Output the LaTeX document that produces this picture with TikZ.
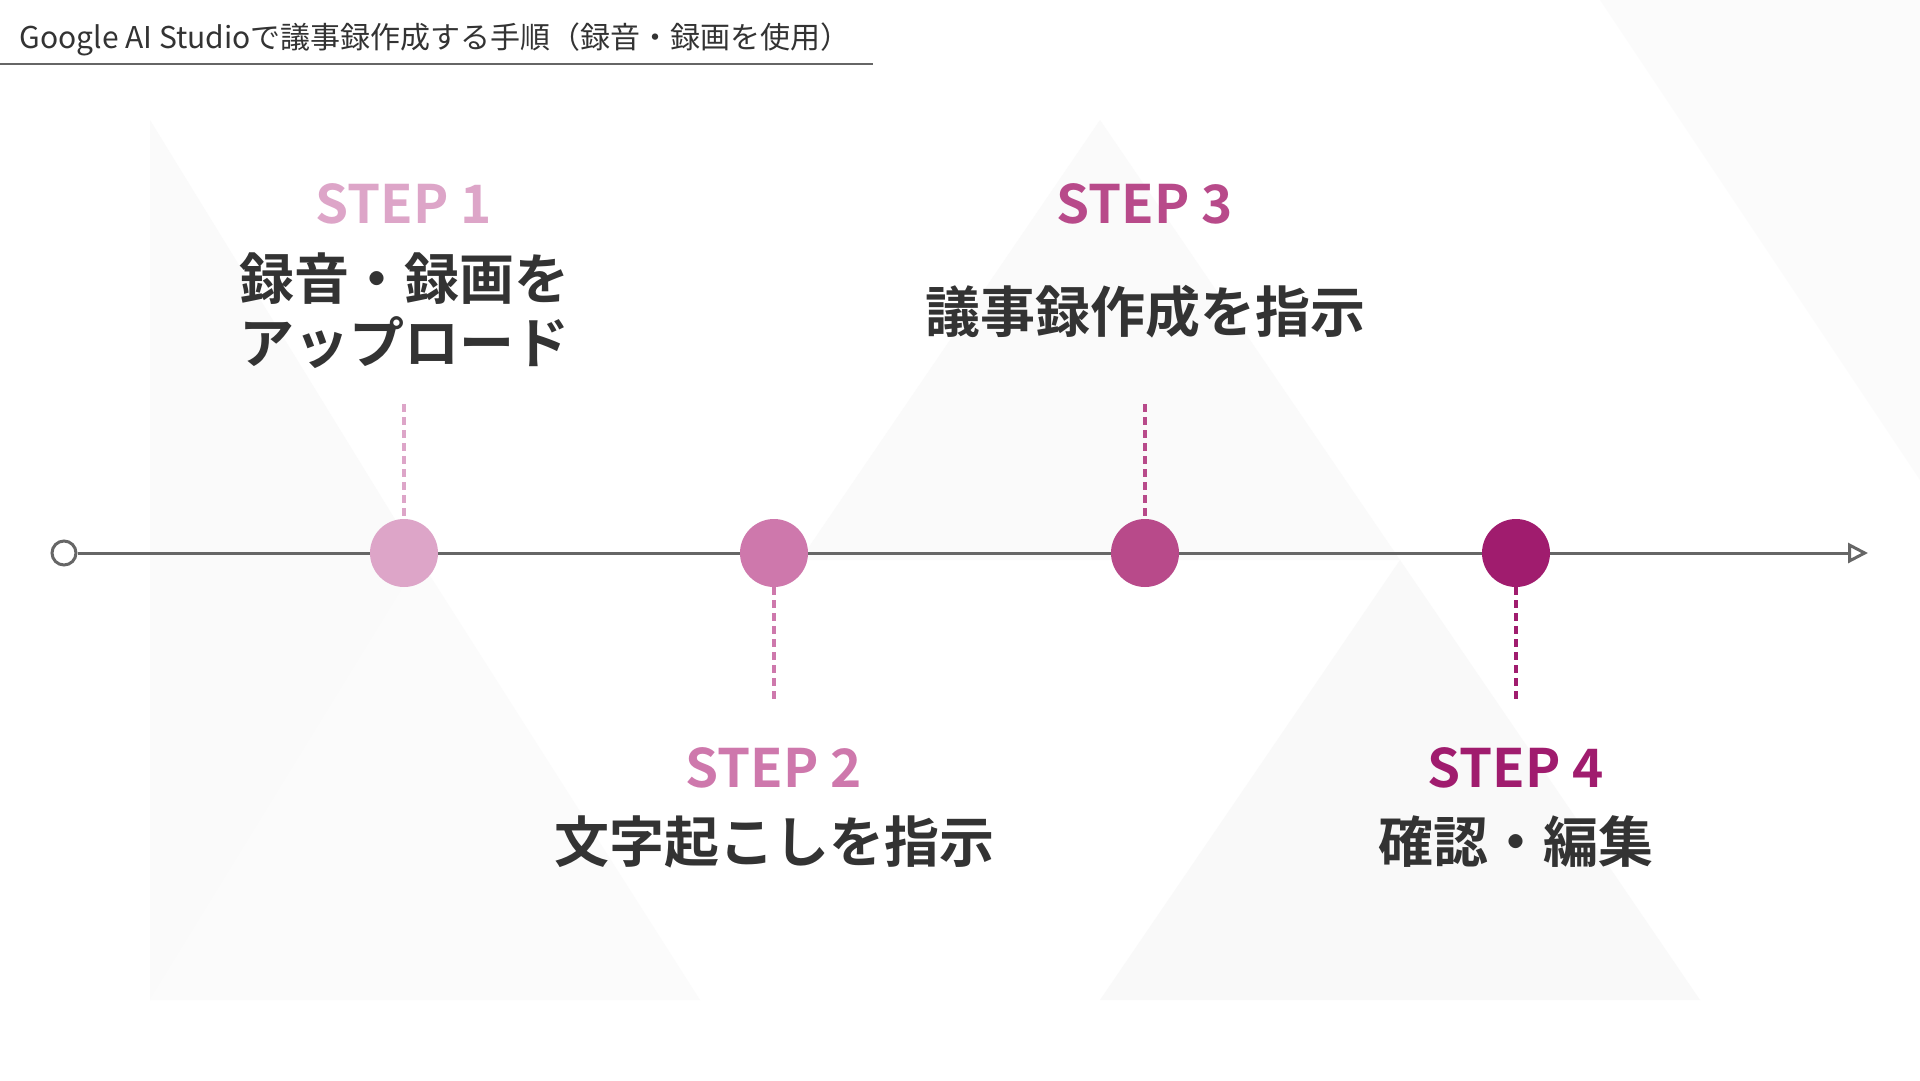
\documentclass[tikz,border=0pt]{standalone}
\usepackage{fontspec}
\setmainfont{Noto Sans CJK JP}
\newfontfamily\jpb{Noto Sans CJK JP Bold}
\newfontfamily\jpl{Noto Sans CJK JP}
\usetikzlibrary{arrows.meta}
\definecolor{sa}{HTML}{DDA5C8}
\definecolor{sb}{HTML}{CE78AC}
\definecolor{sc}{HTML}{B84A8A}
\definecolor{sd}{HTML}{A01C6E}
\definecolor{tx}{HTML}{333333}
\definecolor{ln}{HTML}{666666}
\begin{document}
\begin{tikzpicture}[x=1pt,y=-1pt,
 dot/.style={circle,minimum size=68pt,inner sep=0pt},
 dline/.style={line width=3.2pt,dash pattern=on 8pt off 5pt},
 stp/.style={font=\jpb\fontsize{53}{56}\selectfont},
 lab/.style={font=\jpb\fontsize{55}{64}\selectfont,text=tx,align=center}]
\fill[white] (0,0) rectangle (1920,1080);
\useasboundingbox (0,0) rectangle (1920,1080);
\fill[black!1.8] (150,120) -- (420,560) -- (150,1000) -- cycle;
\fill[black!1.8] (800,560) -- (1100,120) -- (1400,560) -- cycle;
\fill[black!2.2] (1400,560) -- (1700,1000) -- (1100,1000) -- cycle;
\fill[black!1.5] (420,560) -- (700,1000) -- (150,1000) -- cycle;
\fill[black!1.5] (1600,0) -- (1920,0) -- (1920,480) -- cycle;
\node[anchor=west,text=tx,font=\jpl\fontsize{30}{32}\selectfont] (title) at (16,39) {Google AI Studioで議事録作成する手順（録音・録画を使用）};
\coordinate (ul1) at (0,64); \coordinate (ul2) at (873,64);
\draw[ln,line width=2pt] (ul1) -- (ul2);
\node[circle,draw=ln,fill=white,line width=3pt,minimum size=24pt,inner sep=0pt] (start) at (64,553) {};
\coordinate (end) at (1868,553);
\draw[ln,line width=3pt,-{Triangle[open,length=20pt,width=20pt]}] (start) -- (end);
\node[dot,fill=sa] (c1) at (404,553) {};
\node[dot,fill=sb] (c2) at (774,553) {};
\node[dot,fill=sc] (c3) at (1145,553) {};
\node[dot,fill=sd] (c4) at (1516,553) {};
\coordinate (d1) at (404,404); \coordinate (d2) at (774,704);
\coordinate (d3) at (1145,404); \coordinate (d4) at (1516,704);
\draw[dline,sa] (d1) -- (c1.north);
\draw[dline,sb] (c2.south) -- (d2);
\draw[dline,sc] (d3) -- (c3.north);
\draw[dline,sd] (c4.south) -- (d4);
\node[stp,text=sa] (s1) at (404,204) {STEP 1};
\node[lab] (l1) at (404,311) {録音・録画を\\アップロード};
\node[stp,text=sc] (s3) at (1145,204) {STEP 3};
\node[lab] (l3) at (1145,312) {議事録作成を指示};
\node[stp,text=sb] (s2) at (774,768) {STEP 2};
\node[lab] (l2) at (774,842) {文字起こしを指示};
\node[stp,text=sd] (s4) at (1516,768) {STEP 4};
\node[lab] (l4) at (1516,842) {確認・編集};
\end{tikzpicture}
\end{document}
